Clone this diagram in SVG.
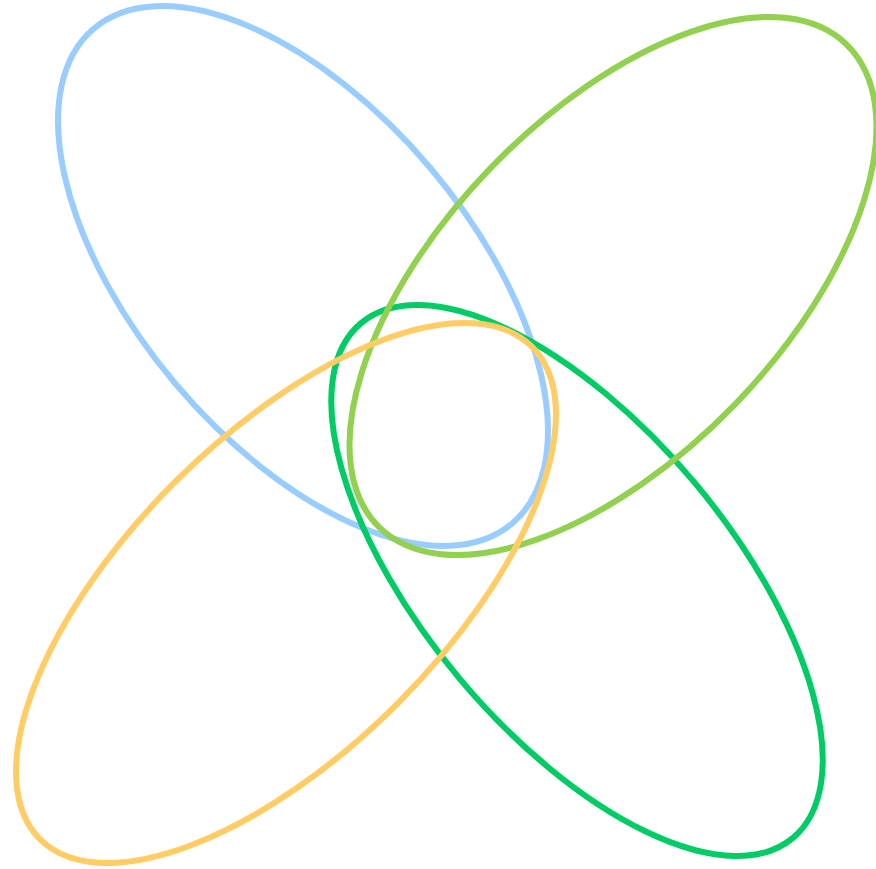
<svg xmlns="http://www.w3.org/2000/svg" width="876" height="869" viewBox="0 0 876 869">
<style>.s{fill:none;stroke-width:6}</style>
<rect width="876" height="869" fill="#fff"/>
<g id="blue"><ellipse class="s" stroke="#99ccff" cx="303" cy="276" rx="324" ry="167" transform="rotate(49.8 303 276)"/></g>
<g id="green"><ellipse class="s" stroke="#00cc66" cx="577" cy="580.5" rx="336" ry="153" transform="rotate(50 577 580.5)"/></g>
<g id="lime"><ellipse class="s" stroke="#92d050" cx="613" cy="286" rx="336" ry="170" transform="rotate(-46 613 286)"/></g>
<g id="yellow"><ellipse class="s" stroke="#ffcc66" cx="286" cy="593" rx="348" ry="157" transform="rotate(-45 286 593)"/></g>
</svg>
